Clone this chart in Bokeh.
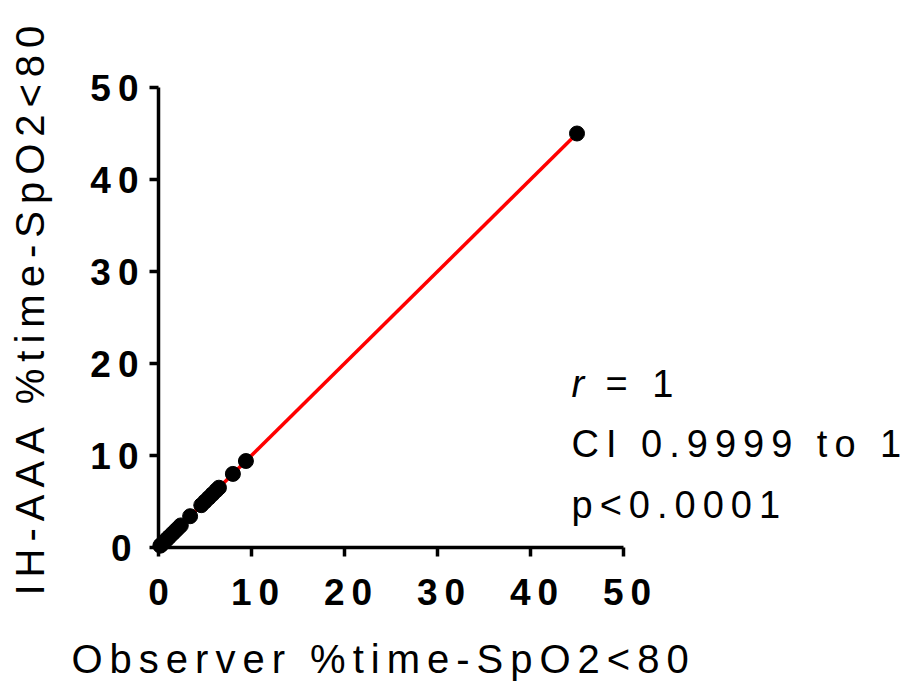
import numpy as np
from bokeh.plotting import figure
from bokeh.models import Range1d, Label, FixedTicker, InlineStyleSheet
from bokeh.embed import file_html
from bokeh.resources import INLINE

# Percent of time with SpO2 < 80: observer scoring vs IH-AAA automated scoring
observer = [0.2, 0.4, 0.6, 0.8, 1.0, 1.2, 1.5, 1.8, 2.1, 2.4,
            3.4, 4.6, 5.0, 5.4, 5.8, 6.2, 6.5, 8.0, 9.4, 45.0]
ih_aaa = [0.2, 0.4, 0.6, 0.8, 1.0, 1.2, 1.5, 1.8, 2.1, 2.4,
          3.4, 4.6, 5.0, 5.4, 5.8, 6.2, 6.5, 8.0, 9.4, 45.0]
ticks = [0, 10, 20, 30, 40, 50]
x_title = "Observer %time-SpO2<80"
y_title = "IH-AAA %time-SpO2<80"
stats_lines = ["= 1", "CI 0.9999 to 1", "p<0.0001"]

FONT = "Liberation Sans"
W, H = 908, 687
X0_PX, Y0_PX = 158, 547        # pixel position of the origin
PX_X, PX_Y = 9.3, 9.2          # pixels per data unit


def dx(px):
    return (px - X0_PX) / PX_X


def dy(py):
    return (Y0_PX - py) / PX_Y


# the frame spans the whole canvas so that tick labels and notes are not clipped
p = figure(width=W, height=H, output_backend="svg", toolbar_location=None,
           x_range=Range1d(dx(0), dx(W)), y_range=Range1d(dy(H), dy(0)),
           frame_width=W, frame_height=H, min_border=0)
p.outline_line_color = None
p.grid.visible = False
p.background_fill_color = "white"
p.border_fill_color = "white"
# wide, evenly tracked lettering throughout
p.stylesheets = [InlineStyleSheet(css=":host { letter-spacing: 7px; }")]

# least-squares fit drawn across the data range
slope, intercept = np.polyfit(observer, ih_aaa, 1)
fx = np.array([0.0, max(observer)])
p.line(fx, slope * fx + intercept, line_color="#ff0000", line_width=3.5)
p.scatter(observer, ih_aaa, size=15, color="black")

for ax in (p.xaxis[0], p.yaxis[0]):
    ax.fixed_location = 0
    ax.bounds = (0, 50)
    ax.ticker = FixedTicker(ticks=ticks)
    ax.minor_tick_line_color = None
    ax.axis_line_width = 3.5
    ax.major_tick_line_width = 3.5
    ax.major_tick_in = 0
    ax.major_tick_out = 9
    ax.major_label_text_font = FONT
    ax.major_label_text_font_style = "bold"
    ax.major_label_text_font_size = "37px"
    ax.major_label_text_color = "black"

p.xaxis.major_label_standoff = 22
p.yaxis.major_label_standoff = 18

title = dict(text_font=FONT, text_font_size="40px", text_color="black",
             text_baseline="alphabetic", text_align="left")
p.add_layout(Label(x=dx(71), y=dy(658), text=x_title, **title))
p.add_layout(Label(x=dx(29), y=dy(595), text=y_title, angle=np.pi / 2, **title))

note = dict(text_font=FONT, text_font_size="38px", text_color="black",
            text_baseline="alphabetic", text_align="left")
p.add_layout(Label(x=dx(571), y=dy(383), text="r", text_font_style="italic", **note))
p.add_layout(Label(x=dx(605), y=dy(383), text=stats_lines[0], **note))
p.add_layout(Label(x=dx(571), y=dy(443), text=stats_lines[1], **note))
p.add_layout(Label(x=dx(571), y=dy(504), text=stats_lines[2], **note))

open("out.html", "w").write(file_html(p, INLINE))
